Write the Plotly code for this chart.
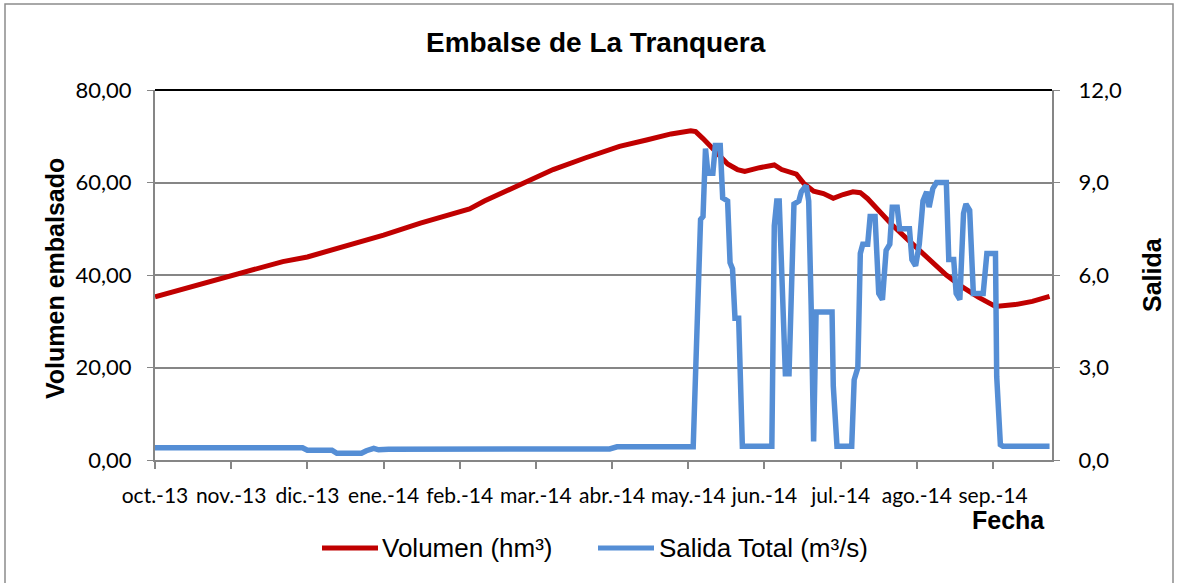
import plotly.graph_objects as go

# ---- data ----
month_labels = ["oct.-13", "nov.-13", "dic.-13", "ene.-14", "feb.-14", "mar.-14",
                "abr.-14", "may.-14", "jun.-14", "jul.-14", "ago.-14", "sep.-14"]
month_ticks = [0, 31, 62, 93, 124, 155, 186, 217, 248, 279, 310, 341]

vol_day = [0, 15, 31, 45, 52, 62, 77, 93, 108, 120, 128, 134, 142, 151, 162, 175, 189, 200,
           210, 218, 220, 223, 227, 233, 237, 240, 246, 252, 255, 258, 261, 264, 268, 272,
           276, 280, 284, 287, 290, 294, 300, 306, 314, 322, 328, 335, 342, 350, 357, 364]
vol_val = [35.3, 37.5, 40.0, 41.8, 42.9, 43.9, 46.2, 48.6, 51.2, 53.0, 54.3, 56.0, 58.0, 60.2,
           62.8, 65.3, 67.8, 69.2, 70.5, 71.2, 71.0, 69.5, 67.2, 64.0, 62.8, 62.4, 63.2, 63.8,
           62.8, 62.2, 61.8, 59.8, 58.1, 57.6, 56.6, 57.4, 58.0, 57.8, 56.5, 54.2, 50.8, 47.8,
           44.0, 40.0, 37.6, 35.2, 33.2, 33.6, 34.3, 35.4]

sal_day = [0, 60, 62, 72, 74, 84, 86, 89, 91, 95, 185, 188, 219, 221, 222, 223, 224, 225, 227,
           228, 230, 231, 233, 234, 235, 236, 237.5, 239, 251, 252, 253, 254, 255.5, 256.5, 258,
           259.5, 260, 262, 263, 265, 266, 267, 268, 269, 270.5, 275.5, 276, 277.5, 283.5, 284.5,
           286, 287, 288, 290, 291, 293, 294.5, 296, 297.5, 299, 300, 302, 303, 307, 308, 309.5,
           311, 312.5, 314, 315, 316.5, 318, 322, 323, 325, 326, 327.5, 329, 330, 331.5, 333,
           337, 338.5, 342, 342.5, 344, 345, 364]
sal_val = [0.40, 0.40, 0.32, 0.32, 0.22, 0.22, 0.30, 0.38, 0.33, 0.35, 0.36, 0.43, 0.43, 6.4,
           7.8, 7.9, 10.1, 9.3, 9.3, 10.2, 10.2, 8.5, 8.4, 6.4, 6.2, 4.6, 4.6, 0.45, 0.45, 7.6,
           8.4, 8.4, 4.5, 2.8, 2.8, 6.2, 8.3, 8.4, 8.7, 8.9, 8.4, 5.0, 0.6, 4.8, 4.8, 4.8, 2.4,
           0.45, 0.45, 2.6, 3.0, 6.7, 7.0, 7.0, 7.9, 7.9, 5.4, 5.2, 6.8, 7.0, 8.2, 8.2, 7.5, 7.5,
           6.5, 6.3, 7.0, 8.4, 8.7, 8.2, 8.8, 9.0, 9.0, 6.5, 6.5, 5.4, 5.2, 8.0, 8.3, 8.1, 5.4,
           5.4, 6.7, 6.7, 2.7, 0.5, 0.45, 0.45]

y_ticks = [0, 20, 40, 60, 80]
y2_ticks = [0, 3, 6, 9, 12]

RED = "#C00000"
BLUE = "#558ED5"
GRID = "#868686"
TICKFONT = dict(family="Lato, Calibri, sans-serif", size=21, color="#000000")
ARIAL = "Liberation Sans, Arial, sans-serif"

fig = go.Figure()
fig.add_trace(go.Scatter(x=vol_day, y=vol_val, mode="lines", name="Volumen (hm³)",
                         line=dict(color=RED, width=5), yaxis="y"))
fig.add_trace(go.Scatter(x=sal_day, y=sal_val, mode="lines", name="Salida Total (m³/s)",
                         line=dict(color=BLUE, width=5.5), yaxis="y2"))

fig.update_layout(
    width=1178, height=583,
    margin=dict(l=155, r=126, t=90, b=123),
    paper_bgcolor="white", plot_bgcolor="white",
    separators=",.",
    showlegend=False,
    xaxis=dict(range=[0, 365], tickvals=month_ticks, ticktext=month_labels,
               showgrid=False, zeroline=False, showline=True, linecolor=GRID, linewidth=2,
               ticks="outside", ticklen=7, tickcolor=GRID, tickwidth=1.5,
               tickfont=dict(TICKFONT, size=21), ticklabelstandoff=9, fixedrange=True),
    yaxis=dict(range=[0, 80], tickvals=y_ticks, tickformat=".2f",
               showgrid=True, gridcolor=GRID, gridwidth=2, zeroline=False,
               showline=True, linecolor=GRID, linewidth=2,
               ticks="outside", ticklen=6, tickcolor=GRID,
               tickfont=dict(TICKFONT, size=22), ticklabelstandoff=11),
    yaxis2=dict(range=[0, 12], tickvals=y2_ticks, tickformat=".1f", overlaying="y",
                side="right", showgrid=False, zeroline=False,
                showline=True, linecolor=GRID, linewidth=2,
                ticks="outside", ticklen=6, tickcolor=GRID,
                tickfont=dict(TICKFONT, size=22), ticklabelstandoff=14),
)

W, H = 897.0, 370.0
def px(xp):
    return (xp - 155) / W
def py(yp):
    return (460 - yp) / H

shapes = [
    # outer chart border
    dict(type="rect", xref="paper", yref="paper", x0=px(5), x1=px(1173), y0=py(640), y1=py(4),
         line=dict(color="#8C8C8C", width=1.5), layer="below"),
    # top border of plot area
    dict(type="line", xref="paper", yref="paper", x0=0, x1=1, y0=1, y1=1,
         line=dict(color="#000000", width=2)),
    # legend samples
    dict(type="line", xref="paper", yref="paper", x0=px(322), x1=px(378), y0=py(548), y1=py(548),
         line=dict(color=RED, width=5)),
    dict(type="line", xref="paper", yref="paper", x0=px(598), x1=px(654), y0=py(548), y1=py(548),
         line=dict(color=BLUE, width=5)),
]

annotations = [
    dict(text="<b>Embalse de La Tranquera</b>", xref="paper", yref="paper",
         x=px(596), y=py(43), xanchor="center", yanchor="middle", showarrow=False,
         font=dict(family=ARIAL, size=28, color="#000000")),
    dict(text="<b>Volumen embalsado</b>", xref="paper", yref="paper", textangle=-90,
         x=px(55), y=py(279), xanchor="center", yanchor="middle", showarrow=False,
         font=dict(family=ARIAL, size=25, color="#000000")),
    dict(text="<b>Salida</b>", xref="paper", yref="paper", textangle=-90,
         x=px(1152), y=py(275), xanchor="center", yanchor="middle", showarrow=False,
         font=dict(family=ARIAL, size=25, color="#000000")),
    dict(text="<b>Fecha</b>", xref="paper", yref="paper",
         x=px(1008), y=py(520), xanchor="center", yanchor="middle", showarrow=False,
         font=dict(family=ARIAL, size=25, color="#000000")),
    dict(text="Volumen (hm³)", xref="paper", yref="paper",
         x=px(380), y=py(548), xanchor="left", yanchor="middle", showarrow=False,
         font=dict(family=ARIAL, size=26, color="#000000")),
    dict(text="Salida Total (m³/s)", xref="paper", yref="paper",
         x=px(657), y=py(548), xanchor="left", yanchor="middle", showarrow=False,
         font=dict(family=ARIAL, size=26, color="#000000")),
]

fig.update_layout(shapes=shapes, annotations=annotations)
fig.write_html("out.html", config={"displayModeBar": False},
               post_script="document.body.style.margin='0';document.body.style.overflow='hidden';")
